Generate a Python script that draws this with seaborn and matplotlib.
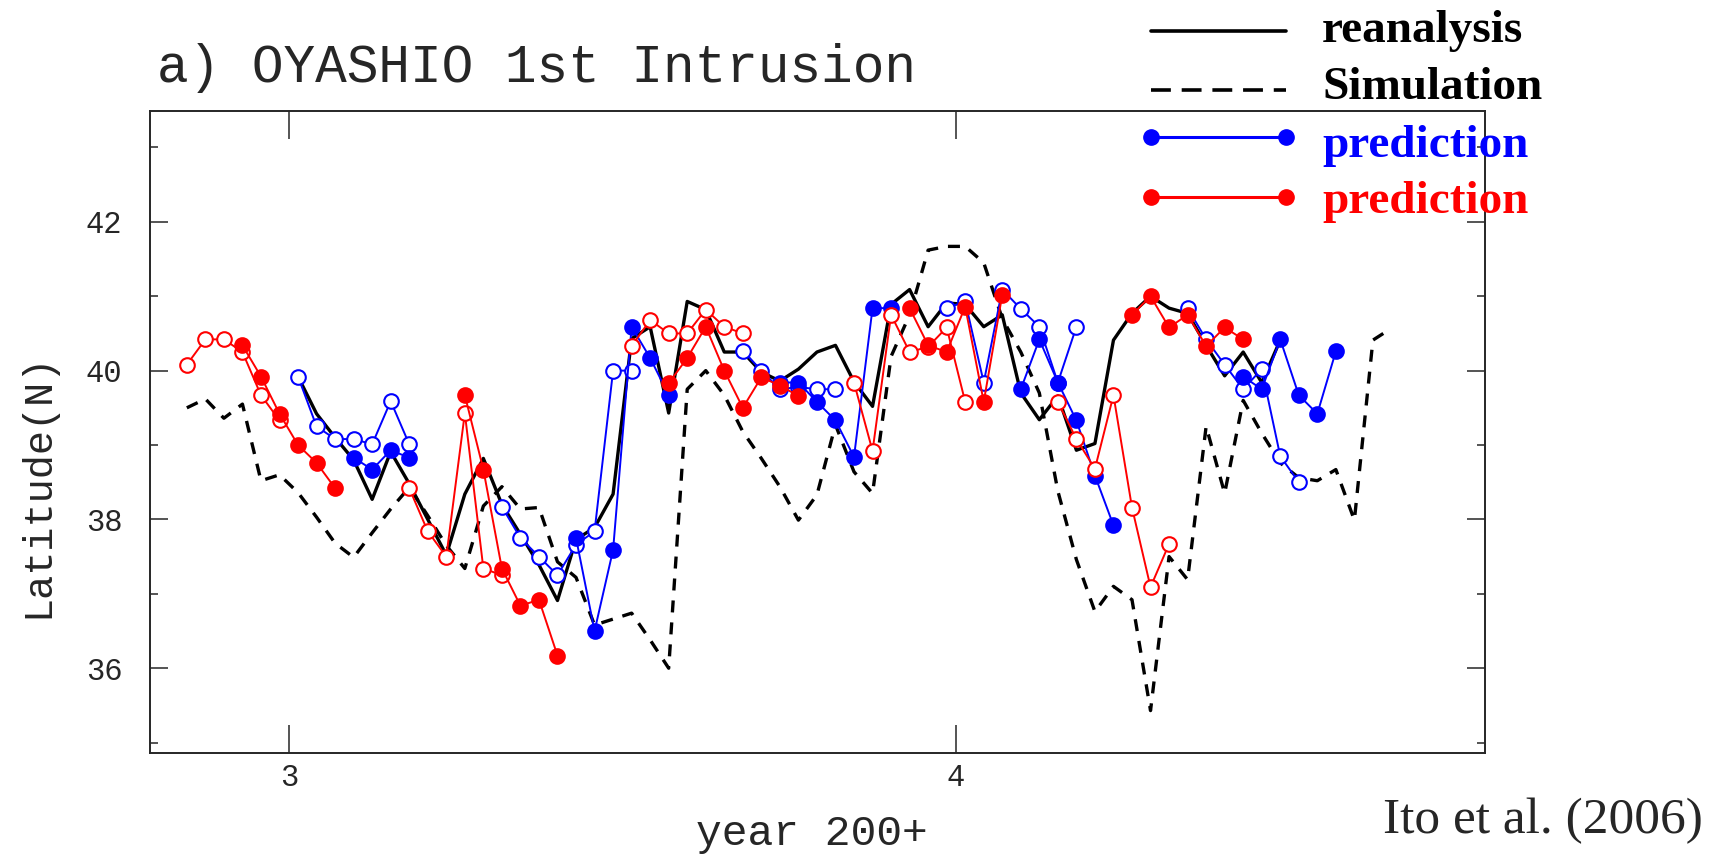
import numpy as np
import pandas as pd
import matplotlib
matplotlib.use("Agg")
import matplotlib.pyplot as plt
import seaborn as sns
from matplotlib.lines import Line2D

# x axis: 10-day steps (36 per year), value = index of the dekad after year 3
reanalysis_start = 0
reanalysis = [39.92, 39.42, 39.10, 38.80, 38.27, 38.91, 38.48, 38.00, 37.52, 38.34,
              38.82, 38.20, 37.80, 37.39, 36.91, 37.73, 37.89, 38.34, 40.43, 40.59,
              39.43, 40.93, 40.82, 40.25, 40.25, 39.98, 39.86, 40.02, 40.25, 40.34,
              39.85, 39.52, 40.89, 41.09, 40.59, 40.91, 40.89, 40.59, 40.75, 39.70,
              39.34, 39.66, 38.93, 39.02, 40.41, 40.77, 41.00, 40.84, 40.77, 40.34,
              39.93, 40.25, 39.84, 40.41]

simulation_start = -6
simulation = [39.50, 39.62, 39.36, 39.55, 38.52, 38.60,
              38.36, 38.03, 37.68, 37.49, 37.82, 38.14, 38.43, 38.05, 37.65, 37.34,
              38.18, 38.44, 38.14, 38.16, 37.43, 37.22, 36.58, 36.66, 36.74, 36.38,
              36.00, 39.75, 40.00, 39.67, 39.18, 38.82, 38.44, 37.99, 38.33, 39.27,
              38.64, 38.35, 40.19, 40.75, 41.62, 41.67, 41.67, 41.45, 40.70, 40.25,
              39.70, 38.38, 37.46, 36.76, 37.10, 36.92, 35.43, 37.50, 37.19, 39.25,
              38.35, 39.60, 39.16, 38.76, 38.56, 38.52, 38.67, 37.99, 40.41, 40.57]

# prediction runs: (start dekad, latitudes)
blue_open = [(0, [39.92, 39.25, 39.08, 39.08, 39.01, 39.59, 39.01]),
             (11, [38.17, 37.75, 37.50, 37.25, 37.66, 37.84, 40.00, 40.00]),
             (24, [40.27, 40.00, 39.75, 39.78, 39.75, 39.75]),
             (35, [40.84, 40.93, 39.84, 41.09, 40.83, 40.59, 39.84, 40.59]),
             (48, [40.84, 40.42, 40.08, 39.75, 40.02, 38.85, 38.50])]
blue_filled = [(3, [38.83, 38.67, 38.93, 38.83]),
               (15, [37.75, 36.50, 37.59, 40.59, 40.17, 39.67]),
               (26, [39.84, 39.84, 39.58, 39.33, 38.84, 40.84, 40.84]),
               (39, [39.75, 40.42, 39.84, 39.33, 38.59, 37.92]),
               (51, [39.92, 39.75, 40.42, 39.67, 39.42, 40.26])]
red_open = [(-6, [40.08, 40.42, 40.42, 40.25, 39.67, 39.33]),
            (6, [38.42, 37.84, 37.50, 39.43, 37.34, 37.25]),
            (18, [40.33, 40.68, 40.50, 40.50, 40.82, 40.59, 40.50]),
            (30, [39.84, 38.92, 40.75, 40.25, 40.32, 40.58, 39.58]),
            (41, [39.58, 39.08, 38.68, 39.67, 38.16, 37.09, 37.67])]
red_filled = [(-3, [40.34, 39.92, 39.42, 39.00, 38.76, 38.42]),
              (9, [39.67, 38.67, 37.34, 36.84, 36.92, 36.17]),
              (20, [39.83, 40.17, 40.59, 40.00, 39.50, 39.91, 39.80, 39.66]),
              (33, [40.84, 40.34, 40.25, 40.86, 39.58, 41.02]),
              (45, [40.75, 41.00, 40.58, 40.75, 40.33, 40.58, 40.42])]

xticks = [3, 4]
yticks = [36, 38, 40, 42]


def dek2year(k0, n):
    return 3 + (np.arange(k0, k0 + n) + 0.5) / 36


sns.set_style("ticks")
plt.rcParams['font.family'] = ['Liberation Mono', 'DejaVu Sans Mono']

W, H = 1721, 855
fig = plt.figure(figsize=(W / 100, H / 100), dpi=100)
ax = fig.add_axes([150 / W, 1 - 753 / H, (1485 - 150) / W, (753 - 111) / H])

lines = pd.DataFrame({"year": np.concatenate([dek2year(reanalysis_start, len(reanalysis)),
                                              dek2year(simulation_start, len(simulation))]),
                      "lat": reanalysis + simulation,
                      "kind": ["reanalysis"] * len(reanalysis) + ["Simulation"] * len(simulation)})

sim = lines[lines.kind == "Simulation"]
sns.lineplot(data=sim, x="year", y="lat", color="black", lw=2.4, ls=(0, (3.6, 3.0)),
             estimator=None, sort=False, ax=ax, legend=False)
rea = lines[lines.kind == "reanalysis"]
sns.lineplot(data=rea, x="year", y="lat", color="black", lw=2.4,
             estimator=None, sort=False, ax=ax, legend=False)

rows = []
for grp, runs in [("blue_open", blue_open), ("blue_filled", blue_filled),
                  ("red_open", red_open), ("red_filled", red_filled)]:
    for i, (k0, vals) in enumerate(runs):
        for x, v in zip(dek2year(k0, len(vals)), vals):
            rows.append({"year": x, "lat": v, "grp": grp, "run": f"{grp}{i}"})
pred = pd.DataFrame(rows)

styles = {"blue_open": ("blue", "white"), "blue_filled": ("blue", "blue"),
          "red_open": ("red", "white"), "red_filled": ("red", "red")}
for grp in ["blue_open", "blue_filled", "red_open", "red_filled"]:
    c, fc = styles[grp]
    sns.lineplot(data=pred[pred.grp == grp], x="year", y="lat", units="run",
                 estimator=None, sort=False, color=c, lw=1.4, marker="o", ms=10.5,
                 mfc=fc, mec=c, mew=1.5, ax=ax, legend=False)

ax.set_xlim(2.792, 4.793)
ax.set_ylim(34.86, 43.49)
ax.set_xticks(xticks)
ax.set_xticklabels([str(t) for t in xticks])
ax.set_yticks(yticks)
ax.set_yticklabels([str(t) for t in yticks])
ax.set_yticks([35, 37, 39, 41, 43], minor=True)
ax.tick_params(axis="x", direction="in", length=20, width=1.1, top=True,
               labelsize=22, pad=7)
ax.tick_params(axis="y", which="major", direction="in", length=13, width=1.1,
               right=True, labelsize=22, pad=20)
ax.tick_params(axis="y", which="minor", direction="in", length=6, width=1.1, right=True)
for s in ax.spines.values():
    s.set_linewidth(1.4)
    s.set_visible(True)
ax.set_xlabel("")
ax.set_ylabel("")

# axis labels and title
fig.text(37 / W, 1 - 485 / H, "Latitude(N)", rotation=90, ha="center", va="center",
         fontsize=29)
fig.text(812 / W, 1 - 845 / H, "year 200+", ha="center", va="baseline", fontsize=31)
fig.text(157 / W, 1 - 82 / H, "a) OYASHIO 1st Intrusion", ha="left", va="baseline",
         fontsize=38)
fig.text(1703 / W, 1 - 821 / H, "Ito et al. (2006)", ha="right", va="center",
         fontsize=37, family=["Liberation Serif", "DejaVu Serif"])

# legend drawn by hand outside the axes
leg = [("reanalysis", "black", "-", None, 31, 42),
       ("Simulation", "black", (0, (5.5, 3.0)), None, 90, 99),
       ("prediction", "blue", "-", "o", 137, 157),
       ("prediction", "red", "-", "o", 197, 213)]
for label, c, ls, mk, ly, by in leg:
    lw = 2.6 if mk is None else 2.2
    fig.add_artist(Line2D([1151 / W, 1286 / W], [1 - ly / H, 1 - ly / H],
                          transform=fig.transFigure, color=c, ls=ls, lw=lw,
                          marker=mk, ms=11, mfc=c, mec=c))
    fig.text(1322 / W, 1 - by / H, label, color=c, ha="left", va="baseline",
             fontsize=34, fontweight="bold", family=["Liberation Serif", "DejaVu Serif"])

fig.savefig("out.png", dpi=100)
